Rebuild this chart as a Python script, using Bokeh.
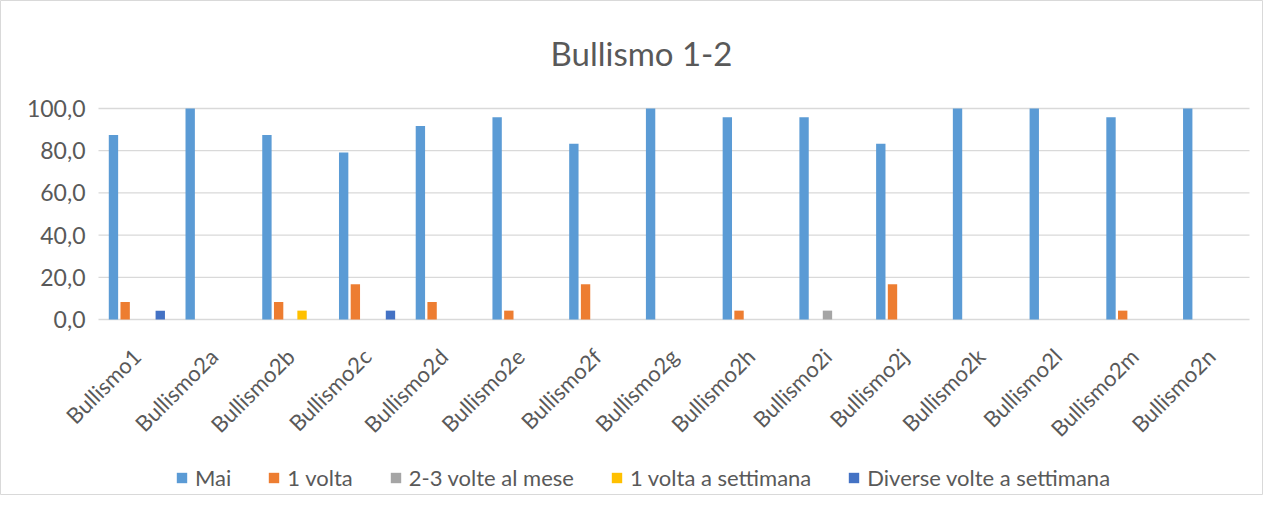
from bokeh.plotting import figure
from bokeh.models import Range1d, Legend, LegendItem, ColumnDataSource
from bokeh.core.properties import value
from bokeh.embed import file_html
from bokeh.resources import INLINE
from math import pi

categories = ["Bullismo1", "Bullismo2a", "Bullismo2b", "Bullismo2c", "Bullismo2d",
              "Bullismo2e", "Bullismo2f", "Bullismo2g", "Bullismo2h", "Bullismo2i",
              "Bullismo2j", "Bullismo2k", "Bullismo2l", "Bullismo2m", "Bullismo2n"]
series_names = ["Mai", "1 volta", "2-3 volte al mese", "1 volta a settimana", "Diverse volte a settimana"]
mai = [87.5, 100.0, 87.5, 79.2, 91.7, 95.8, 83.3, 100.0, 95.8, 95.8, 83.3, 100.0, 100.0, 95.8, 100.0]
una_volta = [8.3, 0.0, 8.3, 16.7, 8.3, 4.2, 16.7, 0.0, 4.2, 0.0, 16.7, 0.0, 0.0, 4.2, 0.0]
due_tre_mese = [0.0, 0.0, 0.0, 0.0, 0.0, 0.0, 0.0, 0.0, 0.0, 4.2, 0.0, 0.0, 0.0, 0.0, 0.0]
una_settimana = [0.0, 0.0, 4.2, 0.0, 0.0, 0.0, 0.0, 0.0, 0.0, 0.0, 0.0, 0.0, 0.0, 0.0, 0.0]
diverse_settimana = [4.2, 0.0, 0.0, 4.2, 0.0, 0.0, 0.0, 0.0, 0.0, 0.0, 0.0, 0.0, 0.0, 0.0, 0.0]
y_ticks = [0, 20, 40, 60, 80, 100]
y_tick_labels = ["0,0", "20,0", "40,0", "60,0", "80,0", "100,0"]
chart_title = "Bullismo 1-2"

colors = ["#5B9BD5", "#ED7D31", "#A5A5A5", "#FFC000", "#4472C4"]
FONT = "Lato"
TXT = "#595959"
GRID = "#D9D9D9"

n = len(categories)
W, H = 1263, 495
PLOT_L, PLOT_R = 98, 1249          # pixel extent of the category band
Y0_PX, Y100_PX = 319, 108          # pixel rows of the 0 and 100 gridlines
px_per_cat = (PLOT_R - PLOT_L) / n
px_per_y = (Y0_PX - Y100_PX) / 100.0

centers = [i + 0.5 for i in range(n)]
series = [mai, una_volta, due_tre_mese, una_settimana, diverse_settimana]

# the whole chart is the frame, so title, rotated labels and legend are never clipped
p = figure(width=W, height=H,
           x_range=Range1d(-PLOT_L / px_per_cat, (W - PLOT_L) / px_per_cat),
           y_range=Range1d(-(H - Y0_PX) / px_per_y, Y0_PX / px_per_y),
           output_backend="svg", toolbar_location=None,
           min_border_left=0, min_border_right=0, min_border_top=0, min_border_bottom=0)
p.outline_line_color = GRID
p.outline_line_width = 1
p.xaxis.visible = False
p.yaxis.visible = False
p.xgrid.visible = False
p.ygrid.visible = False

# title, centred on the chart
p.text(x=[(641 - PLOT_L) / px_per_cat], y=[(Y0_PX - 52) / px_per_y], text=[chart_title],
       text_align="center", text_baseline="middle",
       text_font=value(FONT), text_font_size="33px", text_color=TXT)

# horizontal gridlines
p.segment(x0=[0] * len(y_ticks), x1=[n] * len(y_ticks), y0=y_ticks, y1=y_ticks,
          line_color=GRID, line_width=1.3)

# y tick labels
p.text(x=[-13 / px_per_cat] * len(y_ticks), y=y_ticks, text=y_tick_labels,
       text_align="right", text_baseline="middle",
       text_font=value(FONT), text_font_size="23px", text_color=TXT)

slot = 0.1525
offsets = [-2 * slot, -slot, 0, slot, 2 * slot]
renderers = []
for i, name in enumerate(series_names):
    src = ColumnDataSource(dict(x=[c + offsets[i] for c in centers], top=series[i]))
    r = p.vbar(x="x", top="top", width=0.122, source=src,
               fill_color=colors[i], line_color=None)
    renderers.append(r)

# category labels, rotated 45 degrees, ending at each category centre
p.text(x=centers, y=[-15.6] * n, text=categories,
       angle=pi / 4, text_align="right", text_baseline="middle",
       text_font=value(FONT), text_font_size="22px", text_color=TXT)

legend = Legend(items=[LegendItem(label=s, renderers=[r]) for s, r in zip(series_names, renderers)],
                orientation="horizontal", location=(175, 4), padding=0, margin=0,
                spacing=36, glyph_width=13, glyph_height=13, label_standoff=7,
                label_text_font=FONT, label_text_font_size="22px", label_text_color=TXT,
                border_line_color=None, background_fill_alpha=0)
p.add_layout(legend, "center")

open("out.html", "w").write(file_html(p, INLINE))
